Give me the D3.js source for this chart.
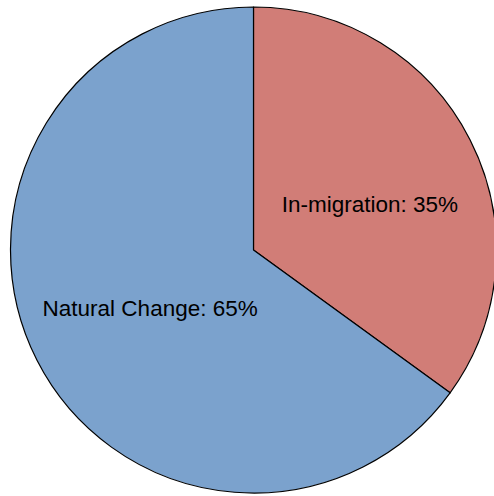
<!DOCTYPE html>
<html>
<head>
<meta charset="utf-8">
<script src="https://cdn.jsdelivr.net/npm/d3@7"></script>
<style>
  html, body { margin: 0; padding: 0; background: #ffffff; }
  svg { display: block; }
</style>
</head>
<body>
<svg id="chart" width="494" height="496"></svg>
<script>
// Components of population growth
const categories = ["In-migration", "Natural Change"];
const shares = [35, 65];
const colors = ["#D17D77", "#7BA2CD"];

const width = 494, height = 496;
const cx = 253.5, cy = 250, radius = 243;

const svg = d3.select("#chart");
const g = svg.append("g").attr("transform", `translate(${cx},${cy})`);

const data = categories.map((c, i) => ({ name: c, value: shares[i], color: colors[i] }));

const pie = d3.pie()
  .value(d => d.value)
  .sort(null)
  .startAngle(0)
  .endAngle(2 * Math.PI);

const arcs = pie(data);

const arc = d3.arc().innerRadius(0).outerRadius(radius);
const labelArc = d3.arc().innerRadius(radius * 0.5).outerRadius(radius * 0.5);
// labels sit a little clockwise of each slice's middle
const labelTurn = 1.7 * Math.PI / 180;

g.selectAll("path.slice")
  .data(arcs)
  .join("path")
  .attr("class", "slice")
  .attr("d", arc)
  .attr("fill", d => d.data.color)
  .attr("stroke", "#000")
  .attr("stroke-width", 1.2)
  .attr("stroke-linejoin", "round");

g.selectAll("text.label")
  .data(arcs)
  .join("text")
  .attr("class", "label")
  .attr("transform", d => {
    const [x, y] = labelArc.centroid({
      startAngle: d.startAngle + labelTurn,
      endAngle: d.endAngle + labelTurn
    });
    return `translate(${x + 6.5},${y + 6})`;
  })
  .attr("text-anchor", "middle")
  .attr("dy", "0.35em")
  .style("font-family", "Liberation Sans, Arial, Helvetica, sans-serif")
  .style("font-size", "22.5px")
  .style("fill", "#000")
  .text(d => `${d.data.name}: ${d.data.value}%`);
</script>
</body>
</html>
